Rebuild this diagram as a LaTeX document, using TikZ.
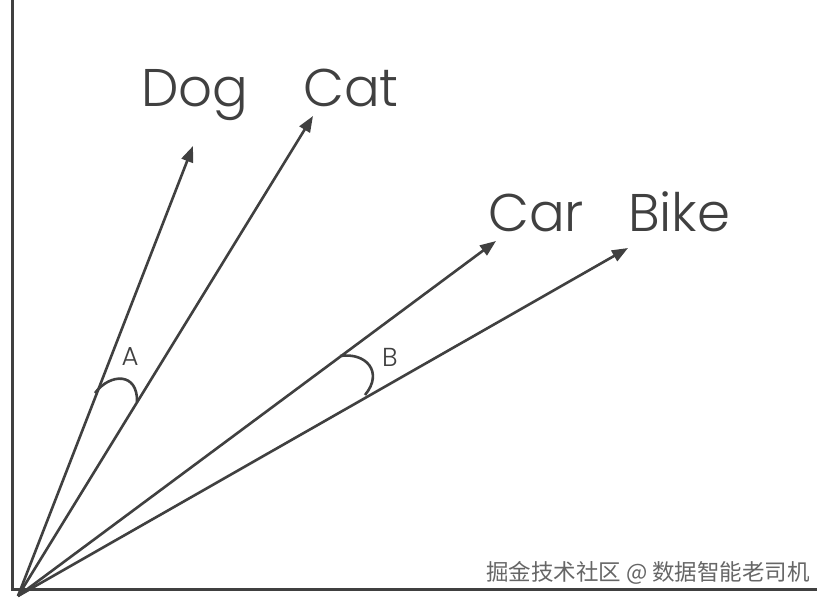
\documentclass[tikz,border=0pt]{standalone}
\usepackage{fontspec}
\setmainfont{Poppins Light}
\newfontfamily\cjkfont{Noto Sans CJK SC}
\usetikzlibrary{arrows.meta}
\definecolor{ink}{HTML}{404040}
\begin{document}
\begin{tikzpicture}[x=1pt,y=-1pt,
  axis/.style={draw=ink,line width=3pt},
  vec/.style={draw=ink,line width=2.6pt,-{Triangle[length=16pt,width=12pt]}},
  anglearc/.style={draw=ink,line width=2.6pt},
  word/.style={text=ink,font=\fontsize{53}{53}\selectfont,inner sep=0pt,anchor=base west},
  anglelabel/.style={text=ink,font=\fontsize{26}{26}\selectfont,inner sep=0pt},
  wmark/.style={text=ink!80,font=\cjkfont\fontsize{22.5}{22.5}\selectfont,inner sep=0pt}]
\useasboundingbox (0,0) rectangle (826,603);
\fill[white] (0,0) rectangle (826,603);
% axes
\coordinate (top) at (12,0);
\coordinate (corner) at (12,589);
\coordinate (right) at (817,589);
\draw[axis] (top) -- (corner) -- (right);
% vectors
\coordinate (o) at (18,596);
\coordinate (dog) at (193,146);
\coordinate (cat) at (313,116);
\coordinate (car) at (496,241);
\coordinate (bike) at (628,248);
\draw[vec] (o) -- (dog);
\draw[vec] (o) -- (cat);
\draw[vec] (o) -- (car);
\draw[vec] (o) -- (bike);
% words
\node[word] (tdog) at (141,106) {Dog};
\node[word] (tcat) at (303,106) {Cat};
\node[word] (tcar) at (488,231) {Car};
\node[word] (tbike) at (628,231) {Bike};
% angles
\coordinate (a1) at (95,393);
\coordinate (a2) at (137,402);
\draw[anglearc] (a1) .. controls (110,373) and (138,372) .. (a2);
\node[anglelabel] (la) at (130,357) {A};
\coordinate (b1) at (340,356);
\coordinate (b2) at (365,395);
\draw[anglearc] (b1) .. controls (366,352) and (384,372) .. (b2);
\node[anglelabel] (lb) at (390,357) {B};
% watermark
\node[wmark] (wm) at (648,573) {掘金技术社区 @ 数据智能老司机};
\end{tikzpicture}
\end{document}
